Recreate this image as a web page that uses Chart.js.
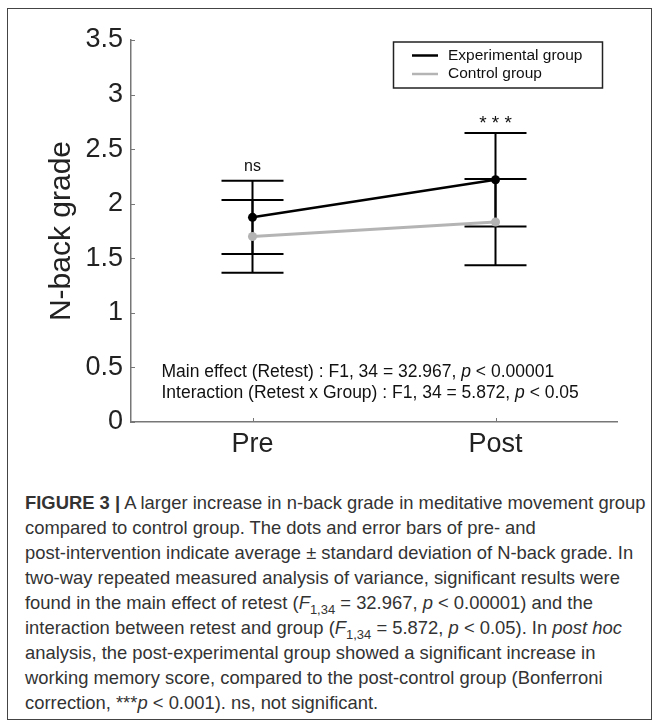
<!DOCTYPE html>
<html>
<head>
<meta charset="utf-8">
<script src="https://cdn.jsdelivr.net/npm/chart.js@4.4.0/dist/chart.umd.min.js"></script>
<style>
  html, body { margin: 0; padding: 0; background: #fff; }
  #frame { position: absolute; left: 7px; top: 8px; width: 643px; height: 710px; border: 1px solid #444; }
  #wrap { position: absolute; left: 0; top: 0; width: 657px; height: 470px; }
  #caption {
    position: absolute; left: 25px; top: 490px;
    font-family: "Liberation Sans", Arial, sans-serif; font-size: 18.4px; line-height: 25px;
    color: #333; white-space: nowrap;
  }
  #caption sub { font-size: 13px; line-height: 0; }
</style>
</head>
<body>
<div id="frame"></div>
<div id="wrap"><canvas id="chart"></canvas></div>
<div id="caption">
  <b>FIGURE 3 |</b> A larger increase in n-back grade in meditative movement group<br>
  compared to control group. The dots and error bars of pre- and<br>
  post-intervention indicate average ± standard deviation of N-back grade. In<br>
  two-way repeated measured analysis of variance, significant results were<br>
  found in the main effect of retest (<i>F</i><sub>1,34</sub> = 32.967, <i>p</i> &lt; 0.00001) and the<br>
  interaction between retest and group (<i>F</i><sub>1,34</sub> = 5.872, <i>p</i> &lt; 0.05). In <i>post hoc</i><br>
  analysis, the post-experimental group showed a significant increase in<br>
  working memory score, compared to the post-control group (Bonferroni<br>
  correction, ***<i>p</i> &lt; 0.001). ns, not significant.
</div>
<script>
// values
const categories = ['Pre', 'Post'];
const expMean = [1.875, 2.22];
const expSD = [0.335, 0.428];
const ctrlMean = [1.70, 1.832];
const ctrlSD = [0.333, 0.395];
const sigLabels = ['ns', '* * *'];
const statLines = [
  ['Main effect (Retest) : F1, 34 = 32.967, ', 'p', ' < 0.00001'],
  ['Interaction (Retest x Group) : F1, 34 = 5.872, ', 'p', ' < 0.05']
];

const FONT = '"Liberation Sans", Arial, sans-serif';

// error bars, drawn under the lines
const errorBars = {
  id: 'errorBars',
  beforeDatasetsDraw(chart) {
    const ctx = chart.ctx;
    const xs = chart.scales.x, ys = chart.scales.y;
    ctx.save();
    ctx.strokeStyle = '#000';
    ctx.lineWidth = 2;
    chart.data.datasets.forEach(ds => {
      ds.data.forEach((m, i) => {
        const x = xs.getPixelForValue(i);
        const top = ys.getPixelForValue(m + ds.sd[i]);
        const bot = ys.getPixelForValue(m - ds.sd[i]);
        ctx.beginPath();
        ctx.moveTo(x, top); ctx.lineTo(x, bot);
        ctx.moveTo(x - 31, top); ctx.lineTo(x + 31, top);
        ctx.moveTo(x - 31, bot); ctx.lineTo(x + 31, bot);
        ctx.stroke();
      });
    });
    ctx.restore();
  }
};

// inward tick marks, legend box, significance marks and stats text
const extras = {
  id: 'extras',
  afterDraw(chart) {
    const ctx = chart.ctx;
    const xs = chart.scales.x, ys = chart.scales.y;
    const area = chart.chartArea;
    ctx.save();

    ctx.strokeStyle = '#777';
    ctx.lineWidth = 1;
    ys.ticks.forEach(t => {
      const y = Math.round(ys.getPixelForValue(t.value)) + 0.5;
      ctx.beginPath(); ctx.moveTo(area.left, y); ctx.lineTo(area.left + 4, y); ctx.stroke();
    });
    categories.forEach((c, i) => {
      const x = Math.round(xs.getPixelForValue(i)) + 0.5;
      ctx.beginPath(); ctx.moveTo(x, area.bottom); ctx.lineTo(x, area.bottom - 4); ctx.stroke();
    });

    // legend
    ctx.strokeStyle = '#222';
    ctx.lineWidth = 1.5;
    ctx.strokeRect(393.5, 42, 209, 46);
    ctx.font = '15.5px ' + FONT;
    ctx.textBaseline = 'middle';
    ctx.textAlign = 'left';
    chart.data.datasets.forEach((ds, i) => {
      const y = 55.5 + i * 18.5;
      ctx.strokeStyle = ds.borderColor;
      ctx.lineWidth = 2.5;
      ctx.beginPath(); ctx.moveTo(412, y); ctx.lineTo(438, y); ctx.stroke();
      ctx.fillStyle = '#111';
      ctx.fillText(ds.label, 448, y);
    });

    // significance marks above the tallest error bar
    ctx.fillStyle = '#111';
    ctx.textAlign = 'center';
    ctx.textBaseline = 'alphabetic';
    sigLabels.forEach((s, i) => {
      const x = xs.getPixelForValue(i);
      const hi = Math.max(expMean[i] + expSD[i], ctrlMean[i] + ctrlSD[i]);
      const y = ys.getPixelForValue(hi);
      if (s === 'ns') {
        ctx.font = '16px ' + FONT;
        ctx.fillText(s, x, y - 10);
      } else {
        ctx.font = '19px ' + FONT;
        ctx.fillText(s, x, y - 4);
      }
    });

    // stats text
    ctx.textAlign = 'left';
    ctx.textBaseline = 'middle';
    statLines.forEach((parts, li) => {
      let x = area.left + 30.5;
      const y = area.bottom - 50 + li * 21.5;
      parts.forEach((p, pi) => {
        ctx.font = (pi === 1 ? 'italic ' : '') + '17.5px ' + FONT;
        ctx.fillText(p, x, y);
        x += ctx.measureText(p).width;
      });
    });
    ctx.restore();
  }
};

const ctx = document.getElementById('chart').getContext('2d');
const chart = new Chart(ctx, {
  type: 'line',
  data: {
    labels: categories,
    datasets: [
      {
        label: 'Experimental group',
        data: expMean,
        sd: expSD,
        borderColor: '#000',
        backgroundColor: '#000',
        borderWidth: 2.5,
        pointRadius: 4.5,
        pointBorderWidth: 0
      },
      {
        label: 'Control group',
        data: ctrlMean,
        sd: ctrlSD,
        borderColor: '#b4b4b4',
        backgroundColor: '#b4b4b4',
        borderWidth: 3,
        pointRadius: 4.5,
        pointBorderWidth: 0
      }
    ]
  },
  options: {
    responsive: true,
    maintainAspectRatio: false,
    animation: false,
    layout: { padding: { left: 0, top: 40, right: 40, bottom: 0 } },
    plugins: {
      legend: { display: false },
      tooltip: { enabled: false }
    },
    scales: {
      x: {
        type: 'category',
        offset: true,
        grid: { display: false, drawTicks: false },
        border: { display: true, color: '#777', width: 1.5 },
        ticks: { color: '#222', font: { family: FONT, size: 27 }, padding: 6 },
        afterFit(s) { s.height = 48; }
      },
      y: {
        min: 0,
        max: 3.5,
        grid: { display: false, drawTicks: false },
        border: { display: true, color: '#777', width: 1.5 },
        ticks: {
          stepSize: 0.5,
          color: '#222',
          font: { family: FONT, size: 27 },
          padding: 8,
          callback: v => String(v)
        },
        title: {
          display: true,
          text: 'N-back grade',
          color: '#222',
          font: { family: FONT, size: 30 },
          padding: { top: 44, bottom: 0 }
        },
        afterFit(s) { s.width = 131; }
      }
    }
  },
  plugins: [errorBars, extras]
});
</script>
</body>
</html>
